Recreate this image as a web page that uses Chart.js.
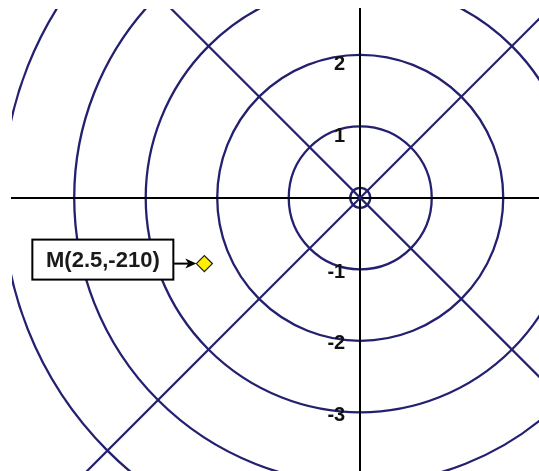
<!DOCTYPE html>
<html>
<head>
<meta charset="utf-8">
<script src="https://cdn.jsdelivr.net/npm/chart.js@4/dist/chart.umd.min.js"></script>
<style>
  html, body { margin: 0; padding: 0; background: #fff; }
  #wrap { width: 539px; height: 471px; }
</style>
</head>
<body>
<div id="wrap"><canvas id="polar"></canvas></div>
<script>
// polar grid: circle radii and ray directions
var circleRadii = [0.14, 1, 2, 3, 4, 5];
var rayEnds = [-6, 6];
var yTickValues = [-3, -2, -1, 1, 2];

// visible window
var xMin = -4.87, xMax = 2.5;
var yMin = -3.82, yMax = 2.64;

// marked point M, as it sits in the picture
var pointLabel = "M(2.5,-210)";
var pointX = [-2.18];
var pointY = [-0.92];

var navy = "#23206f";
var tickFont = "bold 20px Arial, 'Liberation Sans', sans-serif";

function noSpace(scale) {
    if (scale.isHorizontal()) scale.height = 0; else scale.width = 0;
    scale.paddingTop = 0;
    scale.paddingBottom = 0;
    scale.paddingLeft = 0;
    scale.paddingRight = 0;
}

var circlesPlugin = {
    id: 'circles',
    beforeDraw: function (chart) {
        var ctx = chart.ctx;
        var area = chart.chartArea;
        var xs = chart.scales.x, ys = chart.scales.y;
        var cx = xs.getPixelForValue(0), cy = ys.getPixelForValue(0);
        ctx.save();
        ctx.beginPath();
        ctx.rect(area.left, area.top, area.right - area.left, area.bottom - area.top);
        ctx.clip();
        ctx.strokeStyle = navy;
        ctx.lineWidth = 2.3;
        circleRadii.forEach(function (r) {
            var pr = xs.getPixelForValue(r) - cx;
            ctx.beginPath();
            ctx.arc(cx, cy, pr, 0, Math.PI * 2);
            ctx.stroke();
        });
        ctx.restore();
    }
};

// y tick labels sit left of the centred axis
var tickLabelPlugin = {
    id: 'tickLabels',
    afterDraw: function (chart) {
        var ctx = chart.ctx;
        var xs = chart.scales.x, ys = chart.scales.y;
        var ax = xs.getPixelForValue(0);
        ctx.save();
        ctx.font = tickFont;
        ctx.fillStyle = "#111";
        ctx.textAlign = "right";
        ctx.textBaseline = "middle";
        yTickValues.forEach(function (v) {
            var off = v > 0 ? 10 : 3;
            ctx.fillText(String(v), ax - 15, ys.getPixelForValue(v) + off);
        });
        ctx.restore();
    }
};

var calloutPlugin = {
    id: 'callout',
    afterDatasetsDraw: function (chart) {
        var ctx = chart.ctx;
        var meta = chart.getDatasetMeta(2);
        var pt = meta.data[0];
        var px = pt.x, py = pt.y;
        var boxR = px - 31, boxW = 141, boxH = 40;
        var boxL = boxR - boxW, boxT = py - 24;
        ctx.save();
        ctx.fillStyle = "#fff";
        ctx.fillRect(boxL, boxT, boxW, boxH);
        ctx.strokeStyle = "#000";
        ctx.lineWidth = 2;
        ctx.strokeRect(boxL, boxT, boxW, boxH);
        ctx.fillStyle = "#1a1a1a";
        ctx.font = "bold 22px Arial, 'Liberation Sans', sans-serif";
        ctx.textAlign = "center";
        ctx.textBaseline = "middle";
        ctx.fillText(pointLabel, boxL + boxW / 2, boxT + boxH / 2 + 1);
        // arrow
        var ay = py;
        ctx.beginPath();
        ctx.moveTo(boxR, ay);
        ctx.lineTo(px - 16, ay);
        ctx.stroke();
        ctx.beginPath();
        ctx.moveTo(px - 8, ay);
        ctx.lineTo(px - 19, ay - 5);
        ctx.lineTo(px - 16, ay);
        ctx.lineTo(px - 19, ay + 5);
        ctx.closePath();
        ctx.fillStyle = "#000";
        ctx.fill();
        ctx.restore();
    }
};

var ctx = document.getElementById("polar").getContext('2d');
var polar = new Chart(ctx, {
    type: 'scatter',
    data: {
        datasets: [
            {
                label: "ray1",
                data: rayEnds.map(function (v) { return { x: v, y: v }; }),
                showLine: true,
                borderColor: navy,
                borderWidth: 2.2,
                pointRadius: 0
            },
            {
                label: "ray2",
                data: rayEnds.map(function (v) { return { x: v, y: -v }; }),
                showLine: true,
                borderColor: navy,
                borderWidth: 2.2,
                pointRadius: 0
            },
            {
                label: "M",
                data: pointX.map(function (v, i) { return { x: v, y: pointY[i] }; }),
                pointStyle: 'rectRot',
                pointRadius: 8,
                backgroundColor: "#ffef00",
                borderColor: "#222",
                borderWidth: 1.3
            }
        ]
    },
    options: {
        responsive: true,
        maintainAspectRatio: false,
        animation: false,
        layout: { autoPadding: false, padding: { left: 12, top: 9, right: 0, bottom: 0 } },
        plugins: {
            legend: { display: false },
            tooltip: { enabled: false }
        },
        scales: {
            x: {
                type: 'linear',
                position: { y: 0 },
                min: xMin,
                max: xMax,
                afterFit: noSpace,
                grid: { display: false, drawTicks: false },
                border: { color: "#000", width: 2 },
                ticks: { display: false }
            },
            y: {
                type: 'linear',
                position: { x: 0 },
                min: yMin,
                max: yMax,
                afterFit: noSpace,
                grid: { display: false, drawTicks: false },
                border: { color: "#000", width: 2 },
                ticks: { display: false }
            }
        }
    },
    plugins: [circlesPlugin, tickLabelPlugin, calloutPlugin]
});
</script>
</body>
</html>
